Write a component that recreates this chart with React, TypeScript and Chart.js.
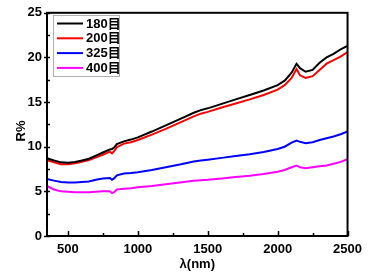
import React, { useEffect, useRef } from "react";
import { Chart, registerables } from "chart.js";

Chart.register(...registerables);

const wavelengths = [350, 400, 450, 500, 550, 600, 650, 700, 750, 800, 815, 830, 850, 900, 950, 1000, 1100, 1200, 1300, 1400, 1450, 1500, 1600, 1700, 1800, 1900, 2000, 2050, 2100, 2135, 2160, 2200, 2250, 2300, 2350, 2400, 2450, 2500];

const mesh180 = [8.7, 8.45, 8.25, 8.2, 8.3, 8.45, 8.65, 9.0, 9.35, 9.7, 9.75, 9.9, 10.3, 10.6, 10.8, 11.05, 11.7, 12.4, 13.1, 13.8, 14.1, 14.3, 14.8, 15.3, 15.8, 16.3, 16.9, 17.4, 18.3, 19.3, 18.8, 18.4, 18.6, 19.4, 20.0, 20.4, 20.9, 21.3];
const mesh200 = [8.5, 8.25, 8.05, 8.05, 8.15, 8.3, 8.5, 8.8, 9.1, 9.45, 9.25, 9.5, 9.95, 10.35, 10.5, 10.75, 11.35, 12.0, 12.7, 13.4, 13.7, 13.9, 14.4, 14.85, 15.3, 15.8, 16.4, 16.9, 17.7, 18.7, 18.0, 17.7, 17.9, 18.6, 19.3, 19.7, 20.1, 20.6];
const mesh325 = [6.4, 6.2, 6.05, 6.0, 6.0, 6.05, 6.1, 6.3, 6.45, 6.5, 6.3, 6.45, 6.8, 7.0, 7.05, 7.15, 7.4, 7.7, 8.0, 8.35, 8.45, 8.55, 8.75, 8.95, 9.15, 9.4, 9.75, 10.0, 10.45, 10.7, 10.55, 10.4, 10.5, 10.75, 10.95, 11.15, 11.4, 11.7];
const mesh400 = [5.6, 5.2, 5.0, 4.95, 4.9, 4.9, 4.9, 4.95, 5.0, 5.0, 4.8, 4.9, 5.2, 5.3, 5.35, 5.45, 5.6, 5.8, 6.0, 6.2, 6.25, 6.3, 6.45, 6.6, 6.75, 6.95, 7.2, 7.4, 7.7, 7.9, 7.7, 7.6, 7.7, 7.8, 7.9, 8.1, 8.3, 8.6];

const seriesLabels = ["180目", "200目", "325目", "400目"];
const seriesColors = ["#000000", "#ff0000", "#0000ff", "#ff00ff"];
const seriesValues = [mesh180, mesh200, mesh325, mesh400];

const xMajorTicks = [500, 1000, 1500, 2000, 2500];
const xMinorTicks = [750, 1250, 1750, 2250];
const yMajorTicks = [0, 5, 10, 15, 20, 25];
const yMinorTicks = [2.5, 7.5, 12.5, 17.5, 22.5];

const FONT = "'Liberation Sans', Arial, 'Noto Sans CJK SC', sans-serif";

const decorPlugin = {
  id: "decor",
  afterDatasetsDraw(chart: any) {
    const { ctx, chartArea, scales } = chart;
    const { left, right, top, bottom } = chartArea;
    const xs = scales.x;
    const ys = scales.y;
    ctx.save();
    ctx.strokeStyle = "#000";
    ctx.lineWidth = 2;
    ctx.strokeRect(left, top, right - left, bottom - top);
    ctx.lineWidth = 1.5;
    ctx.beginPath();
    xMajorTicks.forEach((v) => {
      const px = Math.round(xs.getPixelForValue(v)) + 0.5;
      ctx.moveTo(px, bottom);
      ctx.lineTo(px, bottom - 5);
    });
    xMinorTicks.forEach((v) => {
      const px = Math.round(xs.getPixelForValue(v)) + 0.5;
      ctx.moveTo(px, bottom);
      ctx.lineTo(px, bottom - 3);
    });
    yMajorTicks.forEach((v) => {
      const py = Math.round(ys.getPixelForValue(v)) + 0.5;
      ctx.moveTo(left - 3, py);
      ctx.lineTo(left + 3, py);
    });
    yMinorTicks.forEach((v) => {
      const py = Math.round(ys.getPixelForValue(v)) + 0.5;
      ctx.moveTo(left, py);
      ctx.lineTo(left + 3, py);
    });
    ctx.stroke();

    const lx = 53, ly = 15, lw = 66, lh = 61;
    ctx.fillStyle = "#fff";
    ctx.fillRect(lx, ly, lw, lh);
    ctx.strokeStyle = "#b0b0b0";
    ctx.lineWidth = 1;
    ctx.strokeRect(lx + 0.5, ly + 0.5, lw, lh);
    ctx.font = `bold 13px ${FONT}`;
    ctx.textBaseline = "middle";
    ctx.textAlign = "left";
    seriesLabels.forEach((lab, i) => {
      const cy = 23.5 + i * 14.8;
      ctx.strokeStyle = seriesColors[i];
      ctx.lineWidth = 2;
      ctx.beginPath();
      ctx.moveTo(57, cy);
      ctx.lineTo(83, cy);
      ctx.stroke();
      ctx.fillStyle = "#000";
      ctx.fillText(lab, 86, cy + 0.5);
    });

    ctx.fillStyle = "#000";
    ctx.font = `bold 13px ${FONT}`;
    ctx.textAlign = "center";
    ctx.textBaseline = "middle";
    ctx.fillText("λ(nm)", (left + right) / 2, 264);
    ctx.save();
    ctx.translate(21, 131);
    ctx.rotate(-Math.PI / 2);
    ctx.fillText("R%", 0, 0);
    ctx.restore();
    ctx.restore();
  },
};

export default function App() {
  const ref = useRef<HTMLCanvasElement | null>(null);
  useEffect(() => {
    document.body.style.margin = "0";
    const canvas = ref.current;
    if (!canvas) return;
    const chart = new Chart(canvas, {
      type: "line",
      data: {
        datasets: seriesValues.map((vals, i) => ({
          label: seriesLabels[i],
          data: wavelengths.map((w, j) => ({ x: w, y: vals[j] })),
          borderColor: seriesColors[i],
          backgroundColor: seriesColors[i],
          borderWidth: 2,
          pointRadius: 0,
          tension: 0,
          fill: false,
        })),
      },
      options: {
        responsive: false,
        animation: false,
        events: [],
        layout: { padding: { left: 0, top: 10, right: 17, bottom: 0 } },
        plugins: { legend: { display: false }, tooltip: { enabled: false } },
        scales: {
          x: {
            type: "linear",
            min: 350,
            max: 2500,
            grid: { display: false, drawTicks: false },
            border: { display: false },
            ticks: {
              color: "#000",
              padding: 6,
              maxRotation: 0,
              font: { family: FONT, size: 13, weight: "bold" },
              callback: (v: any) => String(v),
            },
            afterBuildTicks: (scale: any) => {
              scale.ticks = xMajorTicks.map((v) => ({ value: v }));
            },
            afterFit: (scale: any) => {
              scale.height = 42;
            },
          },
          y: {
            type: "linear",
            min: 0,
            max: 25,
            grid: { display: false, drawTicks: false },
            border: { display: false },
            ticks: {
              color: "#000",
              padding: 5,
              font: { family: FONT, size: 13, weight: "bold" },
              callback: (v: any) => String(v),
            },
            afterBuildTicks: (scale: any) => {
              scale.ticks = yMajorTicks.map((v) => ({ value: v }));
            },
            afterFit: (scale: any) => {
              scale.width = 47;
            },
          },
        },
      } as any,
      plugins: [decorPlugin],
    });
    return () => chart.destroy();
  }, []);
  return (
    <div style={{ width: 368, height: 278, background: "#fff" }}>
      <canvas ref={ref} width={368} height={278} style={{ display: "block" }} />
    </div>
  );
}
